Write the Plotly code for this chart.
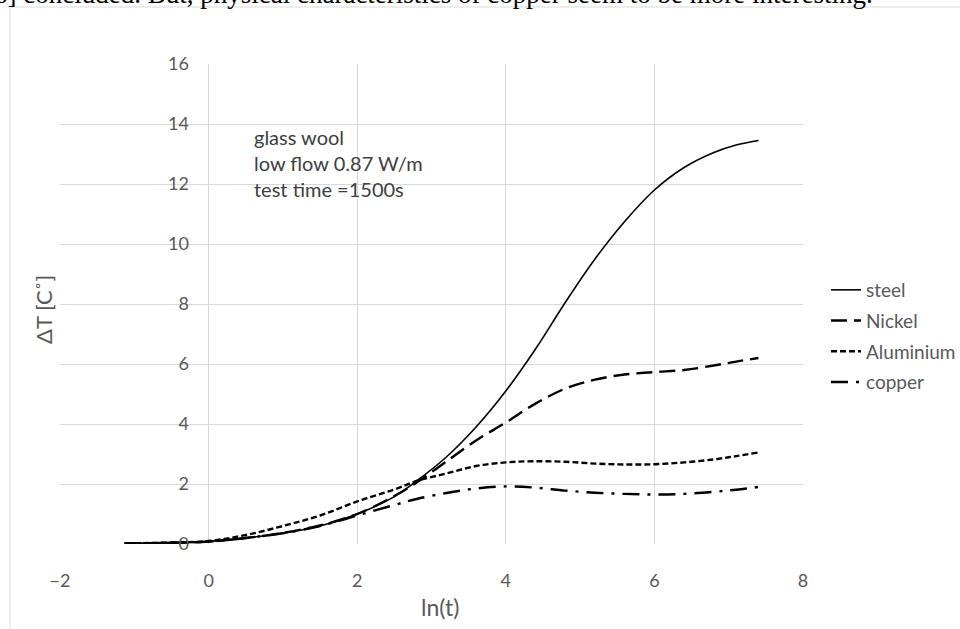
import plotly.graph_objects as go

# ---- data ----
ln_t = [-1.13, -0.5, 0.0, 0.5, 1.0, 1.5, 2.0, 2.5, 2.8, 3.2, 3.6, 4.0, 4.4, 4.8,
        5.2, 5.6, 6.0, 6.4, 6.8, 7.1, 7.4]
steel = [0.02, 0.04, 0.08, 0.2, 0.36, 0.6, 1.0, 1.58, 2.1, 2.9, 3.9, 5.1, 6.5, 8.05,
         9.5, 10.75, 11.8, 12.55, 13.05, 13.3, 13.45]
nickel = [0.02, 0.04, 0.08, 0.2, 0.37, 0.62, 1.0, 1.6, 2.05, 2.75, 3.45, 4.05, 4.68, 5.18,
          5.48, 5.65, 5.73, 5.8, 5.95, 6.08, 6.2]
aluminium = [0.02, 0.05, 0.1, 0.3, 0.6, 0.95, 1.42, 1.82, 2.1, 2.35, 2.6, 2.72, 2.76, 2.74,
             2.68, 2.65, 2.66, 2.72, 2.82, 2.93, 3.05]
copper = [0.02, 0.04, 0.08, 0.2, 0.36, 0.6, 0.95, 1.3, 1.5, 1.7, 1.85, 1.92, 1.88, 1.78,
          1.71, 1.67, 1.65, 1.67, 1.74, 1.81, 1.9]

series_names = ["steel", "Nickel", "Aluminium", "copper"]
x_ticks = [-2, 0, 2, 4, 6, 8]
y_ticks = [0, 2, 4, 6, 8, 10, 12, 14, 16]
note_lines = ["glass wool", "low flow 0.87 W/m", "test time =1500s"]
top_text = "6] concluded. But, physical characteristics of copper seem to be more interesting."

W, H = 960, 629
L, R, T, B = 60, 157, 64, 85
PW, PH = W - L - R, H - T - B


def px(xp):
    return (xp - L) / PW


def py(yp):
    return (H - B - yp) / PH


FONT = "Lato, Open Sans, sans-serif"
GRAY = "#595959"
GRID = "#d9d9d9"

styles = [
    dict(dash="solid", width=1.6),
    dict(dash="16px,7px", width=2.4),
    dict(dash="6px,3px", width=2.4),
    dict(dash="17px,8px,3px,8px", width=2.4),
]
data = [steel, nickel, aluminium, copper]

fig = go.Figure()
for i, (name, ys) in enumerate(zip(series_names, data)):
    fig.add_trace(go.Scatter(
        x=ln_t, y=ys, mode="lines", name=name, legendgroup=name,
        line=dict(color="black", shape="spline", smoothing=1.0, **styles[i]),
    ))

fig.update_layout(
    width=W, height=H,
    margin=dict(l=L, r=R, t=T, b=B, autoexpand=False),
    paper_bgcolor="white", plot_bgcolor="white",
    font=dict(family=FONT, color=GRAY, size=18),
    showlegend=True,
    legend=dict(x=px(826), y=py(271), xanchor="left", yanchor="top",
                font=dict(size=19, color=GRAY), tracegroupgap=3,
                bgcolor="rgba(0,0,0,0)", itemwidth=30),
    xaxis=dict(range=[-2, 8], tickvals=x_ticks, showgrid=True, gridcolor=GRID,
               gridwidth=1, zeroline=False, showline=False, ticks="",
               ticklabelstandoff=24, tickfont=dict(size=18, color=GRAY)),
    yaxis=dict(range=[0, 16], tickvals=y_ticks, showgrid=True, gridcolor=GRID,
               gridwidth=1, zeroline=False, showline=False, ticks="",
               anchor="free", position=px(208), ticklabelstandoff=19,
               tickfont=dict(size=18, color=GRAY)),
)

# axis titles
fig.add_annotation(text="ΔT [C˚]", x=px(43), y=py(310), xref="paper", yref="paper",
                   xanchor="center", yanchor="middle",
                   textangle=-90, showarrow=False, font=dict(size=22, color=GRAY))
fig.add_annotation(text="ln(t)", x=px(440), y=py(607), xref="paper", yref="paper",
                   xanchor="center", yanchor="middle",
                   showarrow=False, font=dict(size=23, color=GRAY))

# note text
for line, yp in zip(note_lines, [137, 163, 189]):
    fig.add_annotation(text=line, x=px(252), y=py(yp), xref="paper", yref="paper",
                       xanchor="left", yanchor="middle", showarrow=False,
                       font=dict(size=20, color="#404040"))

# cut-off document text above the chart
fig.add_annotation(text=top_text, x=px(-8), y=py(11), xref="paper", yref="paper",
                   xanchor="left", yanchor="bottom", showarrow=False,
                   font=dict(family="Liberation Serif, Times New Roman, serif",
                             size=27, color="black"))

# chart-area border
fig.add_shape(type="rect", xref="paper", yref="paper",
              x0=px(10), y0=py(7), x1=px(1000), y1=py(700),
              line=dict(color=GRID, width=1), fillcolor="rgba(0,0,0,0)", layer="below")

fig.write_html("out.html", config={"displayModeBar": False},
               post_script="document.body.style.margin='0';document.body.style.overflow='hidden';")
